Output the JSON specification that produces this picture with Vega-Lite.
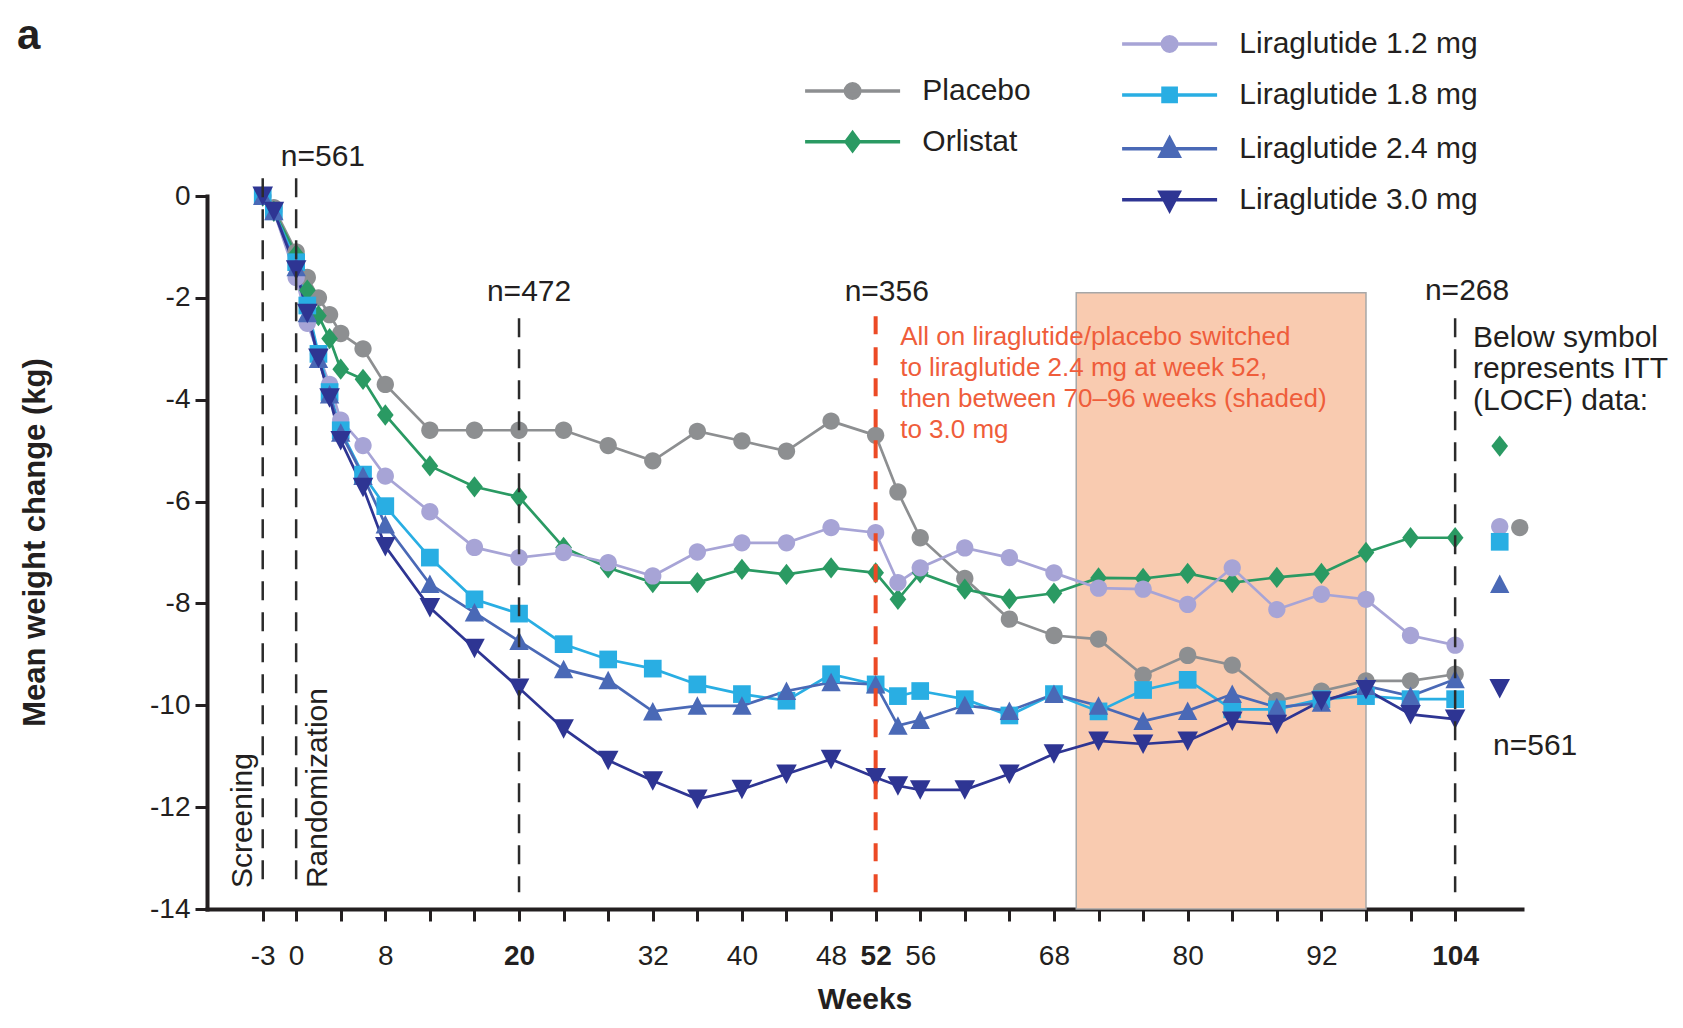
{
  "$schema": "https://vega.github.io/schema/vega-lite/v6.json",
  "width": 1315,
  "height": 713,
  "autosize": {"type": "none"},
  "padding": {"left": 207, "top": 196, "right": 161, "bottom": 119},
  "background": "white",
  "config": {
    "font": "Liberation Sans",
    "view": {"stroke": null},
    "axis": {"grid": false, "domainColor": "#231f20", "tickColor": "#231f20", "labelColor": "#231f20", "titleColor": "#231f20", "labelFont": "Liberation Sans", "titleFont": "Liberation Sans"},
    "legend": {"labelFont": "Liberation Sans"},
    "text": {"font": "Liberation Sans"}
  },
  "datasets": {
    "weights": [
      {"group":"Placebo","week":-3,"value":0},{"group":"Placebo","week":-2,"value":-0.23},{"group":"Placebo","week":0,"value":-1.1},{"group":"Placebo","week":1,"value":-1.6},{"group":"Placebo","week":2,"value":-2.0},{"group":"Placebo","week":3,"value":-2.33},{"group":"Placebo","week":4,"value":-2.7},{"group":"Placebo","week":6,"value":-3.0},{"group":"Placebo","week":8,"value":-3.7},{"group":"Placebo","week":12,"value":-4.6},{"group":"Placebo","week":16,"value":-4.6},{"group":"Placebo","week":20,"value":-4.6},{"group":"Placebo","week":24,"value":-4.6},{"group":"Placebo","week":28,"value":-4.9},{"group":"Placebo","week":32,"value":-5.2},{"group":"Placebo","week":36,"value":-4.62},{"group":"Placebo","week":40,"value":-4.81},{"group":"Placebo","week":44,"value":-5.01},{"group":"Placebo","week":48,"value":-4.42},{"group":"Placebo","week":52,"value":-4.7},{"group":"Placebo","week":54,"value":-5.81},{"group":"Placebo","week":56,"value":-6.71},{"group":"Placebo","week":60,"value":-7.51},{"group":"Placebo","week":64,"value":-8.31},{"group":"Placebo","week":68,"value":-8.63},{"group":"Placebo","week":72,"value":-8.7},{"group":"Placebo","week":76,"value":-9.41},{"group":"Placebo","week":80,"value":-9.02},{"group":"Placebo","week":84,"value":-9.21},{"group":"Placebo","week":88,"value":-9.91},{"group":"Placebo","week":92,"value":-9.72},{"group":"Placebo","week":96,"value":-9.52},{"group":"Placebo","week":100,"value":-9.52},{"group":"Placebo","week":104,"value":-9.39},
      {"group":"Orlistat","week":-3,"value":0},{"group":"Orlistat","week":-2,"value":-0.3},{"group":"Orlistat","week":0,"value":-1.15},{"group":"Orlistat","week":1,"value":-1.85},{"group":"Orlistat","week":2,"value":-2.35},{"group":"Orlistat","week":3,"value":-2.8},{"group":"Orlistat","week":4,"value":-3.4},{"group":"Orlistat","week":6,"value":-3.6},{"group":"Orlistat","week":8,"value":-4.3},{"group":"Orlistat","week":12,"value":-5.3},{"group":"Orlistat","week":16,"value":-5.71},{"group":"Orlistat","week":20,"value":-5.91},{"group":"Orlistat","week":24,"value":-6.9},{"group":"Orlistat","week":28,"value":-7.3},{"group":"Orlistat","week":32,"value":-7.59},{"group":"Orlistat","week":36,"value":-7.59},{"group":"Orlistat","week":40,"value":-7.33},{"group":"Orlistat","week":44,"value":-7.43},{"group":"Orlistat","week":48,"value":-7.3},{"group":"Orlistat","week":52,"value":-7.4},{"group":"Orlistat","week":54,"value":-7.92},{"group":"Orlistat","week":56,"value":-7.4},{"group":"Orlistat","week":60,"value":-7.72},{"group":"Orlistat","week":64,"value":-7.91},{"group":"Orlistat","week":68,"value":-7.8},{"group":"Orlistat","week":72,"value":-7.5},{"group":"Orlistat","week":76,"value":-7.51},{"group":"Orlistat","week":80,"value":-7.41},{"group":"Orlistat","week":84,"value":-7.59},{"group":"Orlistat","week":88,"value":-7.49},{"group":"Orlistat","week":92,"value":-7.41},{"group":"Orlistat","week":96,"value":-7.0},{"group":"Orlistat","week":100,"value":-6.71},{"group":"Orlistat","week":104,"value":-6.71},
      {"group":"Liraglutide 1.2 mg","week":-3,"value":0},{"group":"Liraglutide 1.2 mg","week":-2,"value":-0.3},{"group":"Liraglutide 1.2 mg","week":0,"value":-1.6},{"group":"Liraglutide 1.2 mg","week":1,"value":-2.5},{"group":"Liraglutide 1.2 mg","week":2,"value":-3.1},{"group":"Liraglutide 1.2 mg","week":3,"value":-3.7},{"group":"Liraglutide 1.2 mg","week":4,"value":-4.4},{"group":"Liraglutide 1.2 mg","week":6,"value":-4.9},{"group":"Liraglutide 1.2 mg","week":8,"value":-5.5},{"group":"Liraglutide 1.2 mg","week":12,"value":-6.2},{"group":"Liraglutide 1.2 mg","week":16,"value":-6.9},{"group":"Liraglutide 1.2 mg","week":20,"value":-7.1},{"group":"Liraglutide 1.2 mg","week":24,"value":-7.0},{"group":"Liraglutide 1.2 mg","week":28,"value":-7.2},{"group":"Liraglutide 1.2 mg","week":32,"value":-7.46},{"group":"Liraglutide 1.2 mg","week":36,"value":-6.99},{"group":"Liraglutide 1.2 mg","week":40,"value":-6.81},{"group":"Liraglutide 1.2 mg","week":44,"value":-6.81},{"group":"Liraglutide 1.2 mg","week":48,"value":-6.51},{"group":"Liraglutide 1.2 mg","week":52,"value":-6.61},{"group":"Liraglutide 1.2 mg","week":54,"value":-7.59},{"group":"Liraglutide 1.2 mg","week":56,"value":-7.3},{"group":"Liraglutide 1.2 mg","week":60,"value":-6.91},{"group":"Liraglutide 1.2 mg","week":64,"value":-7.1},{"group":"Liraglutide 1.2 mg","week":68,"value":-7.4},{"group":"Liraglutide 1.2 mg","week":72,"value":-7.7},{"group":"Liraglutide 1.2 mg","week":76,"value":-7.72},{"group":"Liraglutide 1.2 mg","week":80,"value":-8.02},{"group":"Liraglutide 1.2 mg","week":84,"value":-7.3},{"group":"Liraglutide 1.2 mg","week":88,"value":-8.12},{"group":"Liraglutide 1.2 mg","week":92,"value":-7.82},{"group":"Liraglutide 1.2 mg","week":96,"value":-7.92},{"group":"Liraglutide 1.2 mg","week":100,"value":-8.63},{"group":"Liraglutide 1.2 mg","week":104,"value":-8.82},
      {"group":"Liraglutide 1.8 mg","week":-3,"value":0},{"group":"Liraglutide 1.8 mg","week":-2,"value":-0.3},{"group":"Liraglutide 1.8 mg","week":0,"value":-1.3},{"group":"Liraglutide 1.8 mg","week":1,"value":-2.15},{"group":"Liraglutide 1.8 mg","week":2,"value":-3.1},{"group":"Liraglutide 1.8 mg","week":3,"value":-3.85},{"group":"Liraglutide 1.8 mg","week":4,"value":-4.6},{"group":"Liraglutide 1.8 mg","week":6,"value":-5.47},{"group":"Liraglutide 1.8 mg","week":8,"value":-6.09},{"group":"Liraglutide 1.8 mg","week":12,"value":-7.1},{"group":"Liraglutide 1.8 mg","week":16,"value":-7.92},{"group":"Liraglutide 1.8 mg","week":20,"value":-8.2},{"group":"Liraglutide 1.8 mg","week":24,"value":-8.8},{"group":"Liraglutide 1.8 mg","week":28,"value":-9.1},{"group":"Liraglutide 1.8 mg","week":32,"value":-9.28},{"group":"Liraglutide 1.8 mg","week":36,"value":-9.59},{"group":"Liraglutide 1.8 mg","week":40,"value":-9.78},{"group":"Liraglutide 1.8 mg","week":44,"value":-9.91},{"group":"Liraglutide 1.8 mg","week":48,"value":-9.39},{"group":"Liraglutide 1.8 mg","week":52,"value":-9.59},{"group":"Liraglutide 1.8 mg","week":54,"value":-9.82},{"group":"Liraglutide 1.8 mg","week":56,"value":-9.72},{"group":"Liraglutide 1.8 mg","week":60,"value":-9.88},{"group":"Liraglutide 1.8 mg","week":64,"value":-10.2},{"group":"Liraglutide 1.8 mg","week":68,"value":-9.78},{"group":"Liraglutide 1.8 mg","week":72,"value":-10.12},{"group":"Liraglutide 1.8 mg","week":76,"value":-9.7},{"group":"Liraglutide 1.8 mg","week":80,"value":-9.5},{"group":"Liraglutide 1.8 mg","week":84,"value":-10.08},{"group":"Liraglutide 1.8 mg","week":88,"value":-10.08},{"group":"Liraglutide 1.8 mg","week":92,"value":-9.88},{"group":"Liraglutide 1.8 mg","week":96,"value":-9.82},{"group":"Liraglutide 1.8 mg","week":100,"value":-9.88},{"group":"Liraglutide 1.8 mg","week":104,"value":-9.88},
      {"group":"Liraglutide 2.4 mg","week":-3,"value":0},{"group":"Liraglutide 2.4 mg","week":-2,"value":-0.3},{"group":"Liraglutide 2.4 mg","week":0,"value":-1.4},{"group":"Liraglutide 2.4 mg","week":1,"value":-2.3},{"group":"Liraglutide 2.4 mg","week":2,"value":-3.2},{"group":"Liraglutide 2.4 mg","week":3,"value":-3.9},{"group":"Liraglutide 2.4 mg","week":4,"value":-4.65},{"group":"Liraglutide 2.4 mg","week":6,"value":-5.5},{"group":"Liraglutide 2.4 mg","week":8,"value":-6.45},{"group":"Liraglutide 2.4 mg","week":12,"value":-7.62},{"group":"Liraglutide 2.4 mg","week":16,"value":-8.18},{"group":"Liraglutide 2.4 mg","week":20,"value":-8.74},{"group":"Liraglutide 2.4 mg","week":24,"value":-9.29},{"group":"Liraglutide 2.4 mg","week":28,"value":-9.51},{"group":"Liraglutide 2.4 mg","week":32,"value":-10.12},{"group":"Liraglutide 2.4 mg","week":36,"value":-10.01},{"group":"Liraglutide 2.4 mg","week":40,"value":-10.01},{"group":"Liraglutide 2.4 mg","week":44,"value":-9.72},{"group":"Liraglutide 2.4 mg","week":48,"value":-9.55},{"group":"Liraglutide 2.4 mg","week":52,"value":-9.59},{"group":"Liraglutide 2.4 mg","week":54,"value":-10.4},{"group":"Liraglutide 2.4 mg","week":56,"value":-10.29},{"group":"Liraglutide 2.4 mg","week":60,"value":-10.0},{"group":"Liraglutide 2.4 mg","week":64,"value":-10.11},{"group":"Liraglutide 2.4 mg","week":68,"value":-9.78},{"group":"Liraglutide 2.4 mg","week":72,"value":-10.01},{"group":"Liraglutide 2.4 mg","week":76,"value":-10.31},{"group":"Liraglutide 2.4 mg","week":80,"value":-10.11},{"group":"Liraglutide 2.4 mg","week":84,"value":-9.78},{"group":"Liraglutide 2.4 mg","week":88,"value":-10.04},{"group":"Liraglutide 2.4 mg","week":92,"value":-9.95},{"group":"Liraglutide 2.4 mg","week":96,"value":-9.62},{"group":"Liraglutide 2.4 mg","week":100,"value":-9.82},{"group":"Liraglutide 2.4 mg","week":104,"value":-9.49},
      {"group":"Liraglutide 3.0 mg","week":-3,"value":0},{"group":"Liraglutide 3.0 mg","week":-2,"value":-0.3},{"group":"Liraglutide 3.0 mg","week":0,"value":-1.45},{"group":"Liraglutide 3.0 mg","week":1,"value":-2.3},{"group":"Liraglutide 3.0 mg","week":2,"value":-3.18},{"group":"Liraglutide 3.0 mg","week":3,"value":-3.96},{"group":"Liraglutide 3.0 mg","week":4,"value":-4.8},{"group":"Liraglutide 3.0 mg","week":6,"value":-5.72},{"group":"Liraglutide 3.0 mg","week":8,"value":-6.88},{"group":"Liraglutide 3.0 mg","week":12,"value":-8.08},{"group":"Liraglutide 3.0 mg","week":16,"value":-8.88},{"group":"Liraglutide 3.0 mg","week":20,"value":-9.66},{"group":"Liraglutide 3.0 mg","week":24,"value":-10.46},{"group":"Liraglutide 3.0 mg","week":28,"value":-11.08},{"group":"Liraglutide 3.0 mg","week":32,"value":-11.48},{"group":"Liraglutide 3.0 mg","week":36,"value":-11.84},{"group":"Liraglutide 3.0 mg","week":40,"value":-11.65},{"group":"Liraglutide 3.0 mg","week":44,"value":-11.35},{"group":"Liraglutide 3.0 mg","week":48,"value":-11.06},{"group":"Liraglutide 3.0 mg","week":52,"value":-11.42},{"group":"Liraglutide 3.0 mg","week":54,"value":-11.58},{"group":"Liraglutide 3.0 mg","week":56,"value":-11.66},{"group":"Liraglutide 3.0 mg","week":60,"value":-11.66},{"group":"Liraglutide 3.0 mg","week":64,"value":-11.35},{"group":"Liraglutide 3.0 mg","week":68,"value":-10.95},{"group":"Liraglutide 3.0 mg","week":72,"value":-10.7},{"group":"Liraglutide 3.0 mg","week":76,"value":-10.76},{"group":"Liraglutide 3.0 mg","week":80,"value":-10.7},{"group":"Liraglutide 3.0 mg","week":84,"value":-10.31},{"group":"Liraglutide 3.0 mg","week":88,"value":-10.37},{"group":"Liraglutide 3.0 mg","week":92,"value":-9.91},{"group":"Liraglutide 3.0 mg","week":96,"value":-9.69},{"group":"Liraglutide 3.0 mg","week":100,"value":-10.18},{"group":"Liraglutide 3.0 mg","week":104,"value":-10.27}
    ],
    "itt": [
      {"group":"Orlistat","week":108,"value":-4.91},
      {"group":"Placebo","week":109.8,"value":-6.51},
      {"group":"Liraglutide 1.2 mg","week":108,"value":-6.49},
      {"group":"Liraglutide 1.8 mg","week":108,"value":-6.79},
      {"group":"Liraglutide 2.4 mg","week":108,"value":-7.62},
      {"group":"Liraglutide 3.0 mg","week":108,"value":-9.67}
    ],
    "phases": [{"from":70,"to":96,"top":-1.9,"bottom":-14}],
    "milestones": [
      {"week":-3,"top":0.35,"bottom":-13.6},
      {"week":0,"top":0.35,"bottom":-13.6},
      {"week":20,"top":-2.4,"bottom":-13.67},
      {"week":52,"top":-2.36,"bottom":-13.9},
      {"week":104,"top":-2.4,"bottom":-13.67}
    ],
    "counts": [
      {"week":2.4,"value":0.59,"label":"n=561"},
      {"week":20.9,"value":-2.06,"label":"n=472"},
      {"week":53,"value":-2.06,"label":"n=356"},
      {"week":105.07,"value":-2.04,"label":"n=268"}
    ]
  },
  "layer": [
    {
      "data": {"name": "phases"},
      "mark": {"type": "rect", "fill": "#f9cbb0", "stroke": "#a7a7a7", "strokeWidth": 1.5},
      "encoding": {
        "x": {"field": "from", "type": "quantitative", "scale": {"domain": [-8, 110], "nice": false, "zero": false}, "axis": null},
        "x2": {"field": "to"},
        "y": {"field": "top", "type": "quantitative", "scale": {"domain": [-14, 0], "nice": false, "zero": false}, "axis": null},
        "y2": {"field": "bottom"}
      }
    },
    {
      "data": {"name": "weights"},
      "mark": {"type": "line", "strokeWidth": 2.7},
      "encoding": {
        "x": {"field": "week", "type": "quantitative", "scale": {"domain": [-8, 110], "nice": false, "zero": false},
          "axis": {"values": [-3,0,4,8,12,16,20,24,28,32,36,40,44,48,52,56,60,64,68,72,76,80,84,88,92,96,100,104],
            "labelExpr": "indexof([-3,0,8,20,32,40,48,52,56,68,80,92,104], datum.value) >= 0 ? '' + datum.value : ''",
            "labelFontSize": 28,
            "labelFontWeight": {"condition": {"test": "datum.value == 20 || datum.value == 52 || datum.value == 104", "value": "bold"}, "value": "normal"},
            "labelPadding": 21, "labelOverlap": false, "labelFlush": false,
            "tickSize": 12, "tickWidth": 3, "domainWidth": 4, "domainCap": "square",
            "title": "Weeks", "titleFontSize": 30, "titleFontWeight": "bold", "titlePadding": 14}},
        "y": {"field": "value", "type": "quantitative", "scale": {"domain": [-14, 0], "nice": false, "zero": false},
          "axis": {"values": [0,-2,-4,-6,-8,-10,-12,-14], "labelExpr": "'' + datum.value",
            "labelFontSize": 28, "labelPadding": 5, "tickSize": 12, "tickWidth": 3, "domainWidth": 4, "domainCap": "square",
            "title": "Mean weight change (kg)", "titleFontSize": 31, "titleFontWeight": "bold", "titlePadding": 98, "titleY": 346}},
        "color": {"field": "group", "type": "nominal",
          "scale": {"domain": ["Placebo","Orlistat","Liraglutide 1.2 mg","Liraglutide 1.8 mg","Liraglutide 2.4 mg","Liraglutide 3.0 mg"],
                    "range": ["#8d8f91","#2a9a63","#a7a4d6","#29aee3","#4a69b6","#2e3593"]}, "legend": null}
      }
    },
    {
      "data": {"name": "weights"},
      "mark": {"type": "point", "filled": true, "opacity": 1, "size": 400, "strokeWidth": 0},
      "encoding": {
        "x": {"field": "week", "type": "quantitative", "scale": {"domain": [-8, 110], "nice": false, "zero": false}, "axis": null},
        "y": {"field": "value", "type": "quantitative", "scale": {"domain": [-14, 0], "nice": false, "zero": false}, "axis": null},
        "color": {"field": "group", "type": "nominal",
          "scale": {"domain": ["Placebo","Orlistat","Liraglutide 1.2 mg","Liraglutide 1.8 mg","Liraglutide 2.4 mg","Liraglutide 3.0 mg"],
                    "range": ["#8d8f91","#2a9a63","#a7a4d6","#29aee3","#4a69b6","#2e3593"]}, "legend": null},
        "shape": {"field": "group", "type": "nominal",
          "scale": {"domain": ["Placebo","Orlistat","Liraglutide 1.2 mg","Liraglutide 1.8 mg","Liraglutide 2.4 mg","Liraglutide 3.0 mg"],
                    "range": ["M0.865,0A0.865,0.865,0,1,1,-0.865,0A0.865,0.865,0,1,1,0.865,0Z",
                              "M0,-1.065L0.835,0L0,1.065L-0.835,0Z",
                              "M0.865,0A0.865,0.865,0,1,1,-0.865,0A0.865,0.865,0,1,1,0.865,0Z",
                              "M-0.885,-0.885H0.885V0.885H-0.885Z",
                              "M0,-0.95L0.97,0.9L-0.97,0.9Z",
                              "M0,1.0L1.03,-0.95L-1.03,-0.95Z"]}, "legend": null}
      }
    },
    {
      "data": {"name": "itt"},
      "mark": {"type": "point", "filled": true, "opacity": 1, "size": 400, "strokeWidth": 0},
      "encoding": {
        "x": {"field": "week", "type": "quantitative", "scale": {"domain": [-8, 110], "nice": false, "zero": false}, "axis": null},
        "y": {"field": "value", "type": "quantitative", "scale": {"domain": [-14, 0], "nice": false, "zero": false}, "axis": null},
        "color": {"field": "group", "type": "nominal",
          "scale": {"domain": ["Placebo","Orlistat","Liraglutide 1.2 mg","Liraglutide 1.8 mg","Liraglutide 2.4 mg","Liraglutide 3.0 mg"],
                    "range": ["#8d8f91","#2a9a63","#a7a4d6","#29aee3","#4a69b6","#2e3593"]}, "legend": null},
        "shape": {"field": "group", "type": "nominal",
          "scale": {"domain": ["Placebo","Orlistat","Liraglutide 1.2 mg","Liraglutide 1.8 mg","Liraglutide 2.4 mg","Liraglutide 3.0 mg"],
                    "range": ["M0.865,0A0.865,0.865,0,1,1,-0.865,0A0.865,0.865,0,1,1,0.865,0Z",
                              "M0,-1.065L0.835,0L0,1.065L-0.835,0Z",
                              "M0.865,0A0.865,0.865,0,1,1,-0.865,0A0.865,0.865,0,1,1,0.865,0Z",
                              "M-0.885,-0.885H0.885V0.885H-0.885Z",
                              "M0,-0.95L0.97,0.9L-0.97,0.9Z",
                              "M0,1.0L1.03,-0.95L-1.03,-0.95Z"]}, "legend": null}
      }
    },
    {
      "data": {"name": "milestones"},
      "transform": [{"filter": "datum.week != 52"}],
      "mark": {"type": "rule", "color": "#2b2b2b", "strokeWidth": 2.5, "strokeDash": [19, 12]},
      "encoding": {
        "x": {"field": "week", "type": "quantitative", "scale": {"domain": [-8, 110], "nice": false, "zero": false}, "axis": null},
        "y": {"field": "top", "type": "quantitative", "scale": {"domain": [-14, 0], "nice": false, "zero": false}, "axis": null},
        "y2": {"field": "bottom"}
      }
    },
    {
      "data": {"name": "milestones"},
      "transform": [{"filter": "datum.week == 52"}],
      "mark": {"type": "rule", "color": "#ec4a25", "strokeWidth": 4, "strokeDash": [18, 13]},
      "encoding": {
        "x": {"field": "week", "type": "quantitative", "scale": {"domain": [-8, 110], "nice": false, "zero": false}, "axis": null},
        "y": {"field": "top", "type": "quantitative", "scale": {"domain": [-14, 0], "nice": false, "zero": false}, "axis": null},
        "y2": {"field": "bottom"}
      }
    },
    {
      "data": {"name": "counts"},
      "mark": {"type": "text", "align": "center", "baseline": "alphabetic", "fontSize": 30, "color": "#231f20"},
      "encoding": {
        "x": {"field": "week", "type": "quantitative", "scale": {"domain": [-8, 110], "nice": false, "zero": false}, "axis": null},
        "y": {"field": "value", "type": "quantitative", "scale": {"domain": [-14, 0], "nice": false, "zero": false}, "axis": null},
        "text": {"field": "label"}
      }
    },
    {
      "data": {"values": [{"week": 107.4, "value": -10.98, "label": "n=561"}]},
      "mark": {"type": "text", "align": "left", "baseline": "alphabetic", "fontSize": 30, "color": "#231f20"},
      "encoding": {
        "x": {"field": "week", "type": "quantitative", "scale": {"domain": [-8, 110], "nice": false, "zero": false}, "axis": null},
        "y": {"field": "value", "type": "quantitative", "scale": {"domain": [-14, 0], "nice": false, "zero": false}, "axis": null},
        "text": {"field": "label"}
      }
    },
    {
      "data": {"values": [{"week": 54.2, "value": -2.51, "label": "All on liraglutide/placebo switched\nto liraglutide 2.4 mg at week 52,\nthen between 70–96 weeks (shaded)\nto 3.0 mg"}]},
      "mark": {"type": "text", "align": "left", "baseline": "top", "fontSize": 26, "lineHeight": 30.9, "lineBreak": "\n", "color": "#ef5d3b"},
      "encoding": {
        "x": {"field": "week", "type": "quantitative", "scale": {"domain": [-8, 110], "nice": false, "zero": false}, "axis": null},
        "y": {"field": "value", "type": "quantitative", "scale": {"domain": [-14, 0], "nice": false, "zero": false}, "axis": null},
        "text": {"field": "label"}
      }
    },
    {
      "data": {"values": [{"week": 105.6, "value": -2.49, "label": "Below symbol\nrepresents ITT\n(LOCF) data:"}]},
      "mark": {"type": "text", "align": "left", "baseline": "top", "fontSize": 30, "lineHeight": 31.7, "lineBreak": "\n", "color": "#231f20"},
      "encoding": {
        "x": {"field": "week", "type": "quantitative", "scale": {"domain": [-8, 110], "nice": false, "zero": false}, "axis": null},
        "y": {"field": "value", "type": "quantitative", "scale": {"domain": [-14, 0], "nice": false, "zero": false}, "axis": null},
        "text": {"field": "label"}
      }
    },
    {
      "data": {"values": [{"week": -4.0, "value": -13.59, "label": "Screening"}, {"week": 2.74, "value": -13.59, "label": "Randomization"}]},
      "mark": {"type": "text", "align": "left", "baseline": "alphabetic", "angle": 270, "fontSize": 30, "color": "#231f20"},
      "encoding": {
        "x": {"field": "week", "type": "quantitative", "scale": {"domain": [-8, 110], "nice": false, "zero": false}, "axis": null},
        "y": {"field": "value", "type": "quantitative", "scale": {"domain": [-14, 0], "nice": false, "zero": false}, "axis": null},
        "text": {"field": "label"}
      }
    },
    {
      "data": {"values": [{"week": -25.05, "value": 2.886, "label": "a"}]},
      "mark": {"type": "text", "align": "left", "baseline": "alphabetic", "fontSize": 42, "fontWeight": "bold", "color": "#231f20"},
      "encoding": {
        "x": {"field": "week", "type": "quantitative", "scale": {"domain": [-8, 110], "nice": false, "zero": false}, "axis": null},
        "y": {"field": "value", "type": "quantitative", "scale": {"domain": [-14, 0], "nice": false, "zero": false}, "axis": null},
        "text": {"field": "label"}
      }
    },
    {
      "data": {"name": "weights"},
      "transform": [{"filter": "datum.week == -3 && (datum.group == 'Placebo' || datum.group == 'Orlistat')"}],
      "mark": {"type": "point", "opacity": 0, "size": 400, "strokeWidth": 3.5},
      "encoding": {
        "x": {"field": "week", "type": "quantitative", "scale": {"domain": [-8, 110], "nice": false, "zero": false}, "axis": null},
        "y": {"field": "value", "type": "quantitative", "scale": {"domain": [-14, 0], "nice": false, "zero": false}, "axis": null},
        "fill": {"field": "group", "type": "nominal", "scale": {"domain": ["Placebo","Orlistat"], "range": ["#8d8f91","#2a9a63"]},
          "legend": {"orient": "none", "legendX": 630.6, "legendY": -120, "title": null, "direction": "vertical", "symbolSize": 400, "symbolStrokeWidth": 3.5, "labelFontSize": 30, "labelColor": "#231f20", "labelOffset": 54.7, "rowPadding": 19.7, "padding": 0, "labelLimit": 400, "symbolOpacity": 1, "encode": {"symbols": {"update": {"opacity": {"value": 1}}}}}},
        "stroke": {"field": "group", "type": "nominal", "scale": {"domain": ["Placebo","Orlistat"], "range": ["#8d8f91","#2a9a63"]},
          "legend": {"orient": "none", "legendX": 630.6, "legendY": -120, "title": null, "direction": "vertical", "symbolSize": 400, "symbolStrokeWidth": 3.5, "labelFontSize": 30, "labelColor": "#231f20", "labelOffset": 54.7, "rowPadding": 19.7, "padding": 0, "labelLimit": 400, "symbolOpacity": 1, "encode": {"symbols": {"update": {"opacity": {"value": 1}}}}}},
        "shape": {"field": "group", "type": "nominal", "scale": {"domain": ["Placebo","Orlistat"],
            "range": ["M-4.75,0H4.75M0.725,0A0.725,0.725,0,1,1,-0.725,0A0.725,0.725,0,1,1,0.725,0Z", "M-4.75,0H4.75M0,-0.89L0.66,0L0,0.89L-0.66,0Z"]},
          "legend": {"orient": "none", "legendX": 630.6, "legendY": -120, "title": null, "direction": "vertical", "symbolSize": 400, "symbolStrokeWidth": 3.5, "labelFontSize": 30, "labelColor": "#231f20", "labelOffset": 54.7, "rowPadding": 19.7, "padding": 0, "labelLimit": 400, "symbolOpacity": 1, "encode": {"symbols": {"update": {"opacity": {"value": 1}}}}}}
      }
    },
    {
      "data": {"name": "weights"},
      "transform": [{"filter": "datum.week == -3 && indexof(datum.group, 'Liraglutide') == 0"}],
      "mark": {"type": "point", "opacity": 0, "size": 400, "strokeWidth": 3.5},
      "encoding": {
        "x": {"field": "week", "type": "quantitative", "scale": {"domain": [-8, 110], "nice": false, "zero": false}, "axis": null},
        "y": {"field": "value", "type": "quantitative", "scale": {"domain": [-14, 0], "nice": false, "zero": false}, "axis": null},
        "fill": {"field": "group", "type": "nominal", "scale": {"domain": ["Liraglutide 1.2 mg","Liraglutide 1.8 mg","Liraglutide 2.4 mg","Liraglutide 3.0 mg"], "range": ["#a7a4d6","#29aee3","#4a69b6","#2e3593"]},
          "legend": {"orient": "none", "legendX": 947.6, "legendY": -167, "title": null, "direction": "vertical", "symbolSize": 400, "symbolStrokeWidth": 3.5, "labelFontSize": 30, "labelColor": "#231f20", "labelOffset": 54.7, "rowPadding": 20.9, "padding": 0, "labelLimit": 400, "symbolOpacity": 1, "encode": {"symbols": {"update": {"opacity": {"value": 1}}}}}},
        "stroke": {"field": "group", "type": "nominal", "scale": {"domain": ["Liraglutide 1.2 mg","Liraglutide 1.8 mg","Liraglutide 2.4 mg","Liraglutide 3.0 mg"], "range": ["#a7a4d6","#29aee3","#4a69b6","#2e3593"]},
          "legend": {"orient": "none", "legendX": 947.6, "legendY": -167, "title": null, "direction": "vertical", "symbolSize": 400, "symbolStrokeWidth": 3.5, "labelFontSize": 30, "labelColor": "#231f20", "labelOffset": 54.7, "rowPadding": 20.9, "padding": 0, "labelLimit": 400, "symbolOpacity": 1, "encode": {"symbols": {"update": {"opacity": {"value": 1}}}}}},
        "shape": {"field": "group", "type": "nominal", "scale": {"domain": ["Liraglutide 1.2 mg","Liraglutide 1.8 mg","Liraglutide 2.4 mg","Liraglutide 3.0 mg"],
            "range": ["M-4.75,0H4.75M0.725,0A0.725,0.725,0,1,1,-0.725,0A0.725,0.725,0,1,1,0.725,0Z",
                      "M-4.75,0H4.75M-0.66,-0.66H0.66V0.66H-0.66Z",
                      "M-4.75,0H4.75M0,-1.05L0.95,0.75L-0.95,0.75Z",
                      "M-4.75,0H4.75M0,1.05L0.95,-0.75L-0.95,-0.75Z"]},
          "legend": {"orient": "none", "legendX": 947.6, "legendY": -167, "title": null, "direction": "vertical", "symbolSize": 400, "symbolStrokeWidth": 3.5, "labelFontSize": 30, "labelColor": "#231f20", "labelOffset": 54.7, "rowPadding": 20.9, "padding": 0, "labelLimit": 400, "symbolOpacity": 1, "encode": {"symbols": {"update": {"opacity": {"value": 1}}}}}}
      }
    }
  ],
  "resolve": {"scale": {"shape": "independent", "fill": "independent", "stroke": "independent"}, "axis": {"x": "independent", "y": "independent"}}
}
